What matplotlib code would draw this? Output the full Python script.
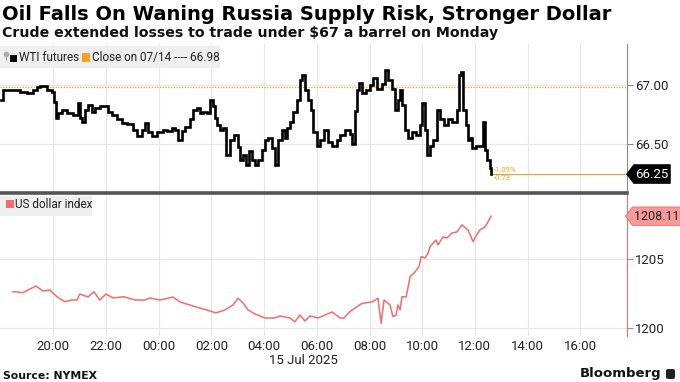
import matplotlib
matplotlib.use("Agg")
import matplotlib.pyplot as plt
from matplotlib.path import Path
from matplotlib.patches import Rectangle, FancyBboxPatch
from matplotlib.lines import Line2D

# ---------------- data ----------------
title = "Oil Falls On Waning Russia Supply Risk, Stronger Dollar"
subtitle = "Crude extended losses to trade under $67 a barrel on Monday"
source = "Source: NYMEX"

# hours since 18:00 on 14 Jul 2025
oil_hours = [0.0, 0.09, 0.36, 0.74, 1.0, 1.23, 1.38, 1.5, 1.76, 1.95, 2.03, 2.1, 2.18, 2.33, 2.52,
             2.75, 2.94, 3.01, 3.09, 3.2, 3.32, 3.47, 3.58, 3.77, 3.92, 4.08, 4.23, 4.42, 4.61, 4.8,
             5.02, 5.18, 5.37, 5.48, 5.59, 5.75, 5.94, 6.16, 6.32, 6.5, 6.62, 6.73, 6.88, 7.0, 7.19,
             7.3, 7.45, 7.57, 7.68, 7.83, 7.95, 8.06, 8.14, 8.21, 8.33, 8.44, 8.55, 8.71, 8.86, 9.01,
             9.09, 9.2, 9.31, 9.43, 9.54, 9.66, 9.77, 9.92, 10.03, 10.15, 10.3, 10.41, 10.53, 10.68,
             10.79, 10.87, 10.98, 11.1, 11.25, 11.36, 11.44, 11.55, 11.67, 11.78, 11.86, 12.01, 12.12,
             12.27, 12.43, 12.58, 12.77, 12.88, 13.07, 13.26, 13.34, 13.45, 13.53, 13.6, 13.72, 13.87,
             14.02, 14.13, 14.29, 14.47, 14.59, 14.7, 14.85, 14.97, 15.08, 15.16, 15.23, 15.35, 15.46,
             15.61, 15.76, 15.92, 15.99, 16.11, 16.18, 16.3, 16.41, 16.56, 16.68, 16.83, 16.98, 17.13,
             17.32, 17.4, 17.47, 17.55, 17.66, 17.74, 17.81, 17.89, 18.04, 18.19, 18.31, 18.38, 18.46,
             18.57, 18.61]
oil_price = [66.87, 66.96, 66.96, 66.94, 66.93, 66.96, 66.98, 66.99, 66.96, 66.94, 66.86, 66.72, 66.76,
             66.79, 66.76, 66.75, 66.85, 66.72, 66.69, 66.79, 66.83, 66.77, 66.81, 66.82, 66.82, 66.77,
             66.75, 66.71, 66.68, 66.67, 66.62, 66.57, 66.62, 66.68, 66.60, 66.57, 66.60, 66.62, 66.61,
             66.64, 66.62, 66.54, 66.61, 66.65, 66.71, 66.79, 66.81, 66.76, 66.77, 66.76, 66.87, 66.82,
             66.72, 66.66, 66.62, 66.64, 66.41, 66.54, 66.58, 66.48, 66.37, 66.41, 66.33, 66.44, 66.37,
             66.33, 66.37, 66.45, 66.54, 66.55, 66.47, 66.33, 66.54, 66.62, 66.55, 66.64, 66.69, 66.77,
             66.87, 67.04, 67.08, 66.96, 66.87, 66.79, 66.60, 66.49, 66.54, 66.62, 66.52, 66.49, 66.54,
             66.58, 66.62, 66.59, 66.50, 66.78, 66.96, 67.02, 66.93, 66.96, 67.00, 67.06, 66.97, 67.01,
             67.13, 67.04, 66.97, 66.79, 66.87, 66.96, 66.83, 66.62, 66.55, 66.60, 66.58, 66.66, 66.85,
             66.62, 66.41, 66.49, 66.54, 66.79, 66.71, 66.66, 66.71, 66.69, 66.79, 67.08, 67.11, 66.79,
             66.66, 66.54, 66.55, 66.47, 66.49, 66.49, 66.69, 66.45, 66.37, 66.30, 66.25]

usd_hours = [0.47, 0.85, 1.34, 1.61, 1.87, 2.14, 2.44, 2.71, 2.9, 3.01, 3.32, 3.54, 3.77, 4.0, 4.27,
             4.68, 5.1, 5.48, 5.67, 6.05, 6.54, 6.81, 7.38, 7.95, 8.17, 8.52, 8.82, 9.01, 9.2, 9.39,
             9.66, 10.03, 10.41, 10.6, 10.98, 11.17, 11.36, 11.55, 11.74, 12.05, 12.31, 12.58, 12.88,
             13.03, 13.26, 13.45, 13.72, 14.1, 14.32, 14.4, 14.44, 14.55, 14.78, 14.89, 15.01, 15.08,
             15.16, 15.23, 15.39, 15.54, 15.69, 15.88, 15.96, 16.11, 16.22, 16.3, 16.52, 16.6, 16.79,
             16.94, 17.13, 17.32, 17.51, 17.74, 17.93, 18.04, 18.19, 18.38, 18.49, 18.61]
usd_index = [1202.62, 1202.55, 1203.03, 1202.67, 1202.74, 1202.25, 1201.89, 1202.01, 1202.01, 1202.45,
             1202.23, 1202.62, 1202.01, 1202.45, 1202.16, 1202.25, 1202.01, 1202.01, 1202.16, 1202.01,
             1202.23, 1201.87, 1201.53, 1201.21, 1201.07, 1201.29, 1201.65, 1202.14, 1201.80, 1201.29,
             1200.99, 1200.70, 1200.70, 1200.85, 1200.70, 1200.43, 1200.92, 1200.48, 1200.85, 1200.70,
             1200.92, 1201.14, 1200.70, 1200.70, 1201.16, 1201.43, 1201.77, 1201.87, 1202.14, 1200.92,
             1200.32, 1202.01, 1201.65, 1200.80, 1200.92, 1201.65, 1201.29, 1202.25, 1202.23, 1203.71,
             1203.98, 1204.44, 1205.17, 1205.07, 1205.42, 1205.90, 1206.38, 1206.02, 1206.60, 1206.53,
             1206.89, 1206.97, 1207.48, 1207.11, 1206.26, 1206.68, 1207.11, 1207.33, 1207.69, 1208.11]

prev_close = 66.98
last_oil = 66.25
last_usd = 1208.11
pct_change = "-1.09%"
abs_change = "-0.73"

xtick_hours = [2, 4, 6, 8, 10, 12, 14, 16, 18, 20, 22]
xtick_labels = ["20:00", "22:00", "00:00", "02:00", "04:00", "06:00",
                "08:00", "10:00", "12:00", "14:00", "16:00"]
date_label = "15 Jul 2025"
oil_yticks = [66.5, 67.0]
oil_yticklabels = ["66.50", "67.00"]
usd_yticks = [1200, 1205]
usd_yticklabels = ["1200", "1205"]

# ---------------- style ----------------
W, H = 680, 382
fig = plt.figure(figsize=(W / 100, H / 100), dpi=100)
fig.patch.set_facecolor("white")

TICKFONT = ["Roboto", "DejaVu Sans"]
ORANGE = "#f5a21f"
RED = "#f26d6d"
GRID = "#e6e6e6"


def fx(px):
    return px / W


def fy(py):
    return 1 - py / H


def pentagon(x0, y0, width, height, mutation_size):
    padx = mutation_size * 0.12
    pady = mutation_size * 0.22
    x0 -= padx
    y0 -= pady
    w = width + 2 * padx
    h = height + 2 * pady
    tip = h * 0.38
    verts = [(x0, y0), (x0 + w, y0), (x0 + w, y0 + h), (x0, y0 + h),
             (x0 - tip, y0 + h / 2), (x0, y0)]
    return Path(verts, closed=True)


XMIN, XMAX = -0.02, 23.77
ax_right = 627

# top axes (oil)
ax1 = fig.add_axes([0, fy(192), fx(ax_right), (192 - 44) / H])
# bottom axes (usd)
ax2 = fig.add_axes([0, fy(336), fx(ax_right), (336 - 194) / H])

for ax in (ax1, ax2):
    ax.set_xlim(XMIN, XMAX)
    ax.set_facecolor("white")
    for s in ("left", "top", "bottom"):
        ax.spines[s].set_visible(False)
    ax.yaxis.tick_right()
    ax.set_xticks(xtick_hours)
    ax.grid(True, axis="both", color=GRID, lw=0.8)
    ax.set_axisbelow(True)
    ax.tick_params(axis="x", length=0)
    ax.tick_params(axis="y", length=4, width=0.8, pad=2, labelsize=9.5, labelcolor="#222222")

ax1.set_ylim(66.099, 67.345)
ax1.set_yticks(oil_yticks)
ax1.set_yticklabels(oil_yticklabels, family=TICKFONT)
ax1.spines["right"].set_color("#888888")
ax1.tick_params(axis="y", color="#888888")
ax1.set_xticklabels([])

ax2.set_ylim(1199.39, 1209.73)
ax2.set_yticks(usd_yticks)
ax2.set_yticklabels(usd_yticklabels, family=TICKFONT)
ax2.spines["right"].set_color(RED)
ax2.tick_params(axis="y", color=RED)
ax2.set_xticklabels(xtick_labels, family=TICKFONT, fontsize=9.5, color="#222222")
ax2.tick_params(axis="x", pad=3)

# oil series
ax1.axhline(prev_close, color=ORANGE, lw=0.9, ls=(0, (1, 1.2)), zorder=2)
ax1.plot(oil_hours, oil_price, color="black", lw=1.9, drawstyle="steps-post", zorder=3,
         solid_joinstyle="miter")
ax1.plot([oil_hours[-1], XMAX], [last_oil, last_oil], color=ORANGE, lw=0.8, zorder=2)
ax1.text(oil_hours[-1] + 0.12, last_oil + 0.012, pct_change, color=ORANGE, fontsize=5.5,
         family=TICKFONT, va="bottom", ha="left")
ax1.text(oil_hours[-1] + 0.12, last_oil - 0.012, abs_change, color=ORANGE, fontsize=5.5,
         family=TICKFONT, va="top", ha="left")
ax1.annotate(f"{last_oil:.2f}", xy=(1, last_oil), xycoords=("axes fraction", "data"),
             xytext=(6, 0), textcoords="offset points", ha="left", va="center",
             fontsize=9.5, family=TICKFONT, color="white", annotation_clip=False,
             bbox=dict(boxstyle=pentagon, fc="black", ec="black", lw=0.5))

# usd series
ax2.plot(usd_hours, usd_index, color=RED, lw=1.1, zorder=3)
ax2.annotate(f"{last_usd:.2f}", xy=(1, last_usd), xycoords=("axes fraction", "data"),
             xytext=(5, 0), textcoords="offset points", ha="left", va="center",
             fontsize=9, family=TICKFONT, color="#222222", annotation_clip=False,
             bbox=dict(boxstyle=pentagon, fc="#f59a9a", ec=RED, lw=0.6))

# separator between panels
fig.add_artist(Line2D([0, fx(ax_right)], [fy(193), fy(193)], color="#555555", lw=2.6))

# legends
fig.add_artist(Rectangle((0, fy(68)), fx(220), (68 - 46) / H, transform=fig.transFigure,
                         fc="#efefef", ec="none", zorder=5))
fig.add_artist(Line2D([fx(6), fx(6)], [fy(60), fy(54)], color="#aaaaaa", lw=0.8, zorder=6))
fig.add_artist(Line2D([fx(6)], [fy(54)], marker="o", ms=3, color="#aaaaaa", zorder=6))
fig.add_artist(Rectangle((fx(10), fy(62)), fx(7), 7 / H, transform=fig.transFigure,
                         fc="black", ec="none", zorder=6))
fig.text(fx(19), fy(57.5), "WTI futures", fontsize=8.5, family=TICKFONT, color="#222222",
         va="center", ha="left", zorder=6)
fig.add_artist(Rectangle((fx(82), fy(61.5)), fx(8), 8 / H, transform=fig.transFigure,
                         fc=ORANGE, ec="none", zorder=6))
fig.text(fx(92), fy(57.5), f"Close on 07/14 ---- {prev_close:.2f}", fontsize=8.5,
         family=TICKFONT, color="#222222", va="center", ha="left", zorder=6)

fig.add_artist(Rectangle((0, fy(216)), fx(92), (216 - 196) / H, transform=fig.transFigure,
                         fc="#efefef", ec="none", zorder=5))
fig.add_artist(Rectangle((fx(6), fy(208.5)), fx(8), 8 / H, transform=fig.transFigure,
                         fc=RED, ec="none", zorder=6))
fig.text(fx(15), fy(204.5), "US dollar index", fontsize=8.5, family=TICKFONT, color="#222222",
         va="center", ha="left", zorder=6)

# date label
fig.text(fx(303), fy(361), date_label, fontsize=9.5, family=TICKFONT, color="#222222",
         ha="center", va="center")

# titles
fig.text(fx(2), fy(14), title, fontsize=14.0, fontweight="bold", family="DejaVu Sans",
         color="black", ha="left", va="center")
fig.text(fx(2), fy(33), subtitle, fontsize=10.2, fontweight="bold", family="DejaVu Sans",
         color="#111111", ha="left", va="center")

# footer
fig.text(fx(3), fy(376), source, fontsize=7.8, fontweight="bold", family="DejaVu Sans",
         color="#111111", ha="left", va="center")
fig.text(fx(661), fy(374), "Bloomberg", fontsize=9.5, fontweight="bold", family="DejaVu Sans",
         color="#111111", ha="right", va="center")
fig.add_artist(FancyBboxPatch((fx(666), fy(379)), fx(9), 10 / H, transform=fig.transFigure,
                              boxstyle="round,pad=0,rounding_size=0.004", fc="#222222", ec="none"))

fig.savefig("out.png", dpi=100)
